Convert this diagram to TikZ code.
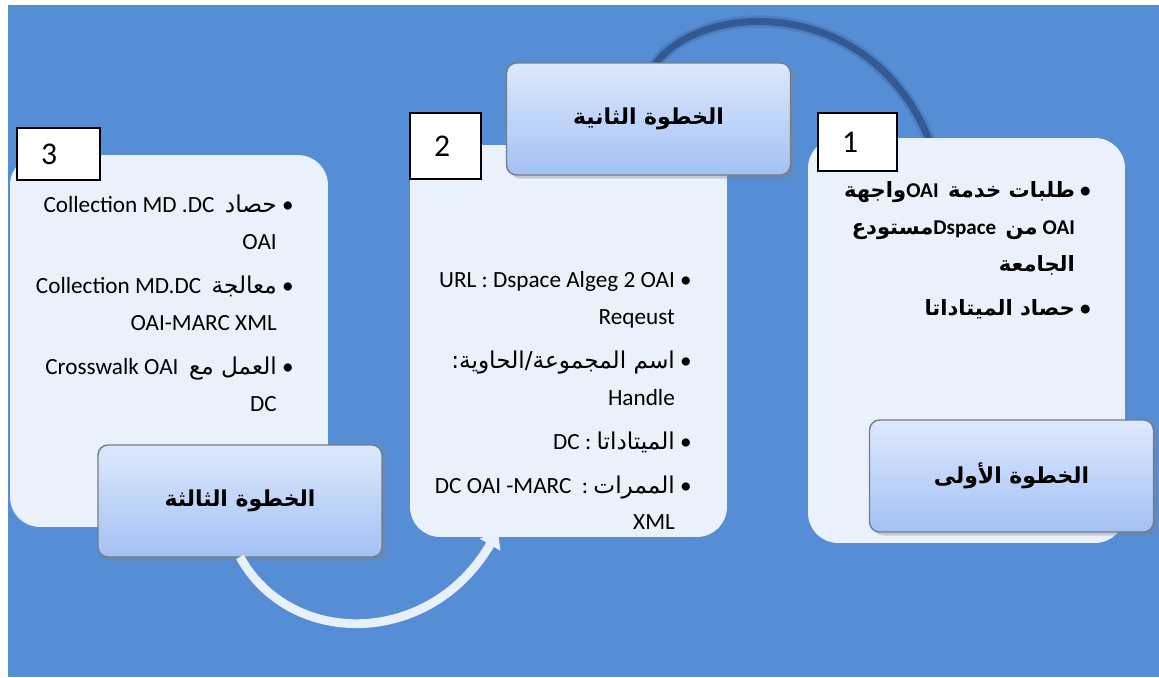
\documentclass[tikz,border=0pt]{standalone}
\usepackage{fontspec}
\usepackage{xcolor}
\usepackage{tikz}
\setmainfont{Carlito}
\newfontfamily\arabicfont[Script=Arabic]{DejaVu Sans}
\TeXXeTstate=1
\usetikzlibrary{arrows.meta,shadows}

\definecolor{bgblue}{RGB}{85,142,213}
\definecolor{panelfill}{RGB}{235,241,250}
\definecolor{headtop}{RGB}{222,232,251}
\definecolor{headbot}{RGB}{163,193,245}
\definecolor{headline}{RGB}{115,125,140}
\definecolor{arcdark}{RGB}{48,84,140}
\definecolor{arrowlight}{RGB}{232,240,252}

\newcommand\ar[1]{{\arabicfont\beginR #1\endR}}
\newcommand\bul{\kern3pt\textbullet}
\newcommand\nob{\hphantom{\kern3pt\textbullet}}
\newcommand\panelfont{\fontsize{13.2}{21}\selectfont\lineskiplimit=-20pt\relax}

\begin{document}
\begin{tikzpicture}[x=0.02cm,y=-0.02cm,
panel/.style={fill=panelfill,rounded corners=0.6cm,inner sep=0pt,outer sep=0pt},
stephead/.style={draw=headline,line width=0.8pt,top color=headtop,bottom color=headbot,rounded corners=0.2cm,
  minimum width=5.68cm,minimum height=2.24cm,inner sep=0pt,outer sep=0pt,
  drop shadow={opacity=0.35,shadow xshift=2pt,shadow yshift=-2pt},font=\bfseries\fontsize{12.5}{15}\selectfont},
numbox/.style={draw,fill=white,line width=1pt,inner sep=0pt,outer sep=0pt},
numtext/.style={anchor=west,xshift=0.36cm,font=\fontsize{18}{20}\selectfont},
paneltext/.style={anchor=north east,align=right,inner sep=0pt,font=\panelfont},
steparrow/.style={draw=arrowlight,line width=5pt,-{Triangle[width=13pt,length=9pt]}},
backarc/.style={draw=arcdark,line width=4pt,opacity=0.85,preaction={draw=arcdark,line width=7pt,opacity=0.25}}]
\useasboundingbox (0,0) rectangle (1159,677);
\fill[bgblue] (8,5) rectangle (1159,677);

% arc behind the panels
\coordinate (arcstart) at (650,72);
\coordinate (arcend) at (930,142);
\draw[backarc] (arcstart) .. controls (690,0) and (870,-10) .. (arcend);

% panels
\node[panel,minimum width=6.36cm,minimum height=7.44cm] (panel3) at (169,341) {};
\node[panel,minimum width=6.34cm,minimum height=7.84cm] (panel2) at (568.5,341) {};
\node[panel,minimum width=6.34cm,minimum height=8.1cm] (panel1) at (966.5,340.5) {};

\node[paneltext] (text3) at (294,195) {Collection MD .DC~~\ar{حصاد}\bul\\
OAI\nob\\[4pt]
Collection MD.DC~~\ar{معالجة}\bul\\
OAI-MARC XML\nob\\[4pt]
Crosswalk OAI~~\ar{العمل مع}\bul\\
DC\nob};
\node[paneltext] (text2) at (692,271) {URL : Dspace Algeg 2 OAI\bul\\
Reqeust\nob\\[4pt]
\ar{اسم المجموعة/الحاوية:}\bul\\
Handle\nob\\[4pt]
DC :~\ar{الميتاداتا}\bul\\[4pt]
DC OAI -MARC~~:~\ar{الممرات}\bul\\
XML\nob};
\node[paneltext,font={\panelfont\fontsize{12}{21}\selectfont\bfseries}] (text1) at (1091,181) {\ar{واجهة}OAI~~\ar{طلبات خدمة}\bul\\
\ar{مستودع}Dspace~~\ar{من}~OAI\nob\\
\ar{الجامعة}\nob\\[4pt]
\ar{حصاد الميتاداتا}\bul};

% step headers
\node[stephead] (head3) at (240,501) {\ar{الخطوة الثالثة}};
\node[stephead] (head2) at (648.5,119) {\ar{الخطوة الثانية}};
\node[stephead] (head1) at (1011.5,476) {\ar{الخطوة الأولى}};

% curved arrow
\coordinate (tip) at (498,531);
\draw[steparrow] (head3.south) .. controls (290,648) and (430,648) .. (tip);

% number boxes
\node[numbox,minimum width=1.66cm,minimum height=1.04cm,label={[numtext]west:3}] (num3) at (58.5,154) {};
\node[numbox,minimum width=1.42cm,minimum height=1.32cm,label={[numtext]west:2}] (num2) at (445.5,146) {};
\node[numbox,minimum width=1.58cm,minimum height=1.16cm,label={[numtext]west:1}] (num1) at (857.5,142) {};
\end{tikzpicture}
\end{document}
